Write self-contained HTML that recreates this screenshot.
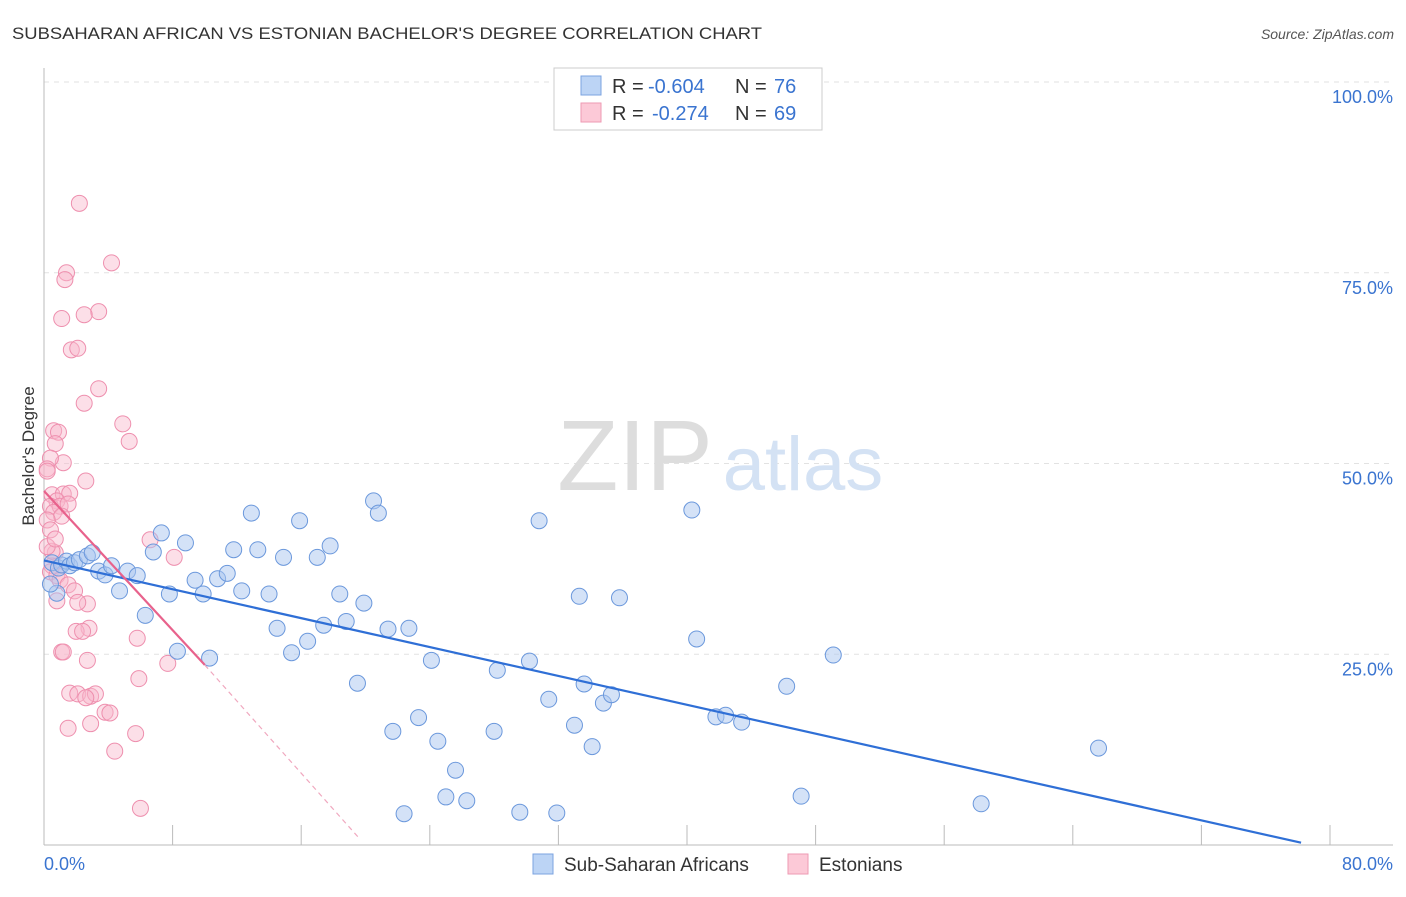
<!DOCTYPE html>
<html><head><meta charset="utf-8"><style>
body{margin:0;background:#fff;font-family:"Liberation Sans",sans-serif;}
svg text{font-family:"Liberation Sans",sans-serif;}
</style></head><body>
<svg width="1406" height="892" xmlns="http://www.w3.org/2000/svg" id="chart">
<text x="12" y="39" font-size="17" fill="#333" textLength="750" lengthAdjust="spacingAndGlyphs">SUBSAHARAN AFRICAN VS ESTONIAN BACHELOR'S DEGREE CORRELATION CHART</text>
<text x="1394" y="39" font-size="14" fill="#555" font-style="italic" text-anchor="end">Source: ZipAtlas.com</text>
<g id="grid"></g>
<g><text x="635" y="490" font-size="100" fill="#ddd" font-family="Liberation Serif,serif" text-anchor="middle">ZIP</text><text x="803" y="490" font-size="76" fill="#d4e2f4" text-anchor="middle">atlas</text></g>
<line x1="44" y1="68" x2="44" y2="845" stroke="#bbb"/>
<line x1="44" y1="845" x2="1393" y2="845" stroke="#bbb"/>
<g id="xticks"></g>
<text x="44" y="870" font-size="18" fill="#3a74d0">0.0%</text>
<text x="1393" y="870" font-size="18" fill="#3a74d0" text-anchor="end">80.0%</text>
<text x="34" y="456" font-size="17" fill="#333" text-anchor="middle" transform="rotate(-90 34 456)">Bachelor's Degree</text>
<g id="pts"></g>
<g id="lines"></g>
<g>
<rect x="554" y="68" width="268" height="62" fill="#fff" stroke="#ccc"/>
<rect x="581" y="76" width="20" height="19" fill="#bcd4f5" stroke="#7ba3e0"/>
<text x="612" y="93" font-size="20" fill="#333">R = <tspan x="648" fill="#3a74d0">-0.604</tspan><tspan x="735">N = </tspan><tspan x="774" fill="#3a74d0">76</tspan></text>
<rect x="581" y="103" width="20" height="19" fill="#fcc9d7" stroke="#ee9ab3"/>
<text x="612" y="120" font-size="20" fill="#333">R = <tspan x="652" fill="#3a74d0">-0.274</tspan><tspan x="735">N = </tspan><tspan x="774" fill="#3a74d0">69</tspan></text>
</g>
<g>
<rect x="533" y="854" width="20" height="20" fill="#bcd4f5" stroke="#7ba3e0"/>
<text x="564" y="871" font-size="19" fill="#333">Sub-Saharan Africans</text>
<rect x="788" y="854" width="20" height="20" fill="#fcc9d7" stroke="#ee9ab3"/>
<text x="819" y="871" font-size="19" fill="#333">Estonians</text>
</g>
</svg>
<script>
const yTicks=[25,50,75,100];
const yTickLabels=["25.0%","50.0%","75.0%","100.0%"];
const xTickVals=[0,8,16,24,32,40,48,56,64,72,80];
const blueX=[0.5,0.9,1.1,1.4,1.6,1.9,2.2,2.7,3.0,3.4,3.8,4.2,4.7,5.2,5.8,6.3,6.8,7.3,7.8,8.3,8.8,9.4,9.9,10.3,10.8,11.4,11.8,12.3,12.9,13.3,14.0,14.5,14.9,15.4,15.9,16.4,17.0,17.4,17.8,18.4,18.8,19.5,19.9,20.5,20.8,21.4,21.7,22.4,22.7,23.3,24.1,24.5,25.6,25.0,26.3,28.0,28.2,29.6,30.2,30.8,31.4,31.9,33.0,33.3,33.6,34.1,34.8,35.3,35.8,40.3,40.6,41.8,42.4,43.4,46.2,47.1,49.1,58.3,65.6,0.8,0.4];
const blueY=[37.0,36.3,36.7,37.2,36.6,37.0,37.4,37.9,38.3,35.9,35.4,36.6,33.3,35.9,35.3,30.1,38.4,40.9,32.9,25.4,39.6,34.7,32.9,24.5,34.9,35.6,38.7,33.3,43.5,38.7,32.9,28.4,37.7,25.2,42.5,26.7,37.7,28.8,39.2,32.9,29.3,21.2,31.7,45.1,43.5,28.3,14.9,4.1,28.4,16.7,24.2,13.6,9.8,6.3,5.8,14.9,22.9,4.3,24.1,42.5,19.1,4.2,15.7,32.6,21.1,12.9,18.6,19.7,32.4,43.9,27.0,16.8,17.0,16.1,20.8,6.4,24.9,5.4,12.7,33.0,34.2];
const pinkX=[2.2,4.2,1.4,1.3,3.4,2.5,1.1,1.7,2.1,3.4,2.5,4.9,5.3,0.6,0.9,0.7,1.2,0.4,0.2,2.6,0.5,1.2,1.6,0.8,0.4,1.0,1.5,0.6,1.1,0.2,0.4,0.7,0.5,0.4,0.8,1.0,1.5,1.9,0.8,2.7,2.1,6.6,8.1,2.8,2.0,2.4,5.8,1.1,2.7,1.2,7.7,5.9,1.6,2.1,2.9,3.2,2.6,3.8,4.1,2.9,1.5,5.7,4.4,6.0,0.5,0.2,0.2,0.7];
const pinkY=[84.1,76.3,75.0,74.1,69.9,69.5,69.0,64.9,65.1,59.8,57.9,55.2,52.9,54.3,54.1,52.6,50.1,50.7,49.3,47.7,45.9,46.0,46.1,45.1,44.4,44.4,44.7,43.6,43.1,42.6,41.3,38.3,36.6,35.8,35.3,34.7,34.1,33.3,32.0,31.6,31.8,40.0,37.7,28.4,28.0,28.0,27.1,25.3,24.2,25.3,23.8,21.8,19.9,19.8,19.5,19.8,19.3,17.4,17.3,15.9,15.3,14.6,12.3,4.8,38.5,39.1,49.0,40.1];
const blueTrend=[0,37.3,78.2,0.3];
const pinkTrend=[0,46.4,10.0,23.6];
const pinkDash=[10.0,23.6,19.6,0.9];
const X=v=>44+v/80*1286, Y=v=>845-v/100*763;
const NS="http://www.w3.org/2000/svg";
const mk=(t,a,p)=>{const e=document.createElementNS(NS,t);for(const k in a)e.setAttribute(k,a[k]);p.appendChild(e);return e;};
const grid=document.getElementById('grid');
yTicks.forEach((v,i)=>{
 const l=mk('line',{x1:44,x2:1393,y1:Y(v),y2:Y(v),stroke:'#e2e2e2','stroke-dasharray':'5,5'},grid);
 
 
 const t=mk('text',{x:1393,y:Y(v)+21,'font-size':18,fill:'#3a74d0','text-anchor':'end'},grid);
 t.textContent=yTickLabels[i];
 
 
});
const xt=document.getElementById('xticks');
xTickVals.forEach(v=>{
 const l=mk('line',{x1:X(v),x2:X(v),y1:825,y2:845,stroke:'#bbb'},xt);
 
 
});
const pts=document.getElementById('pts');
pinkX.forEach((x,i)=>{
 const c=mk('circle',{cx:X(x),cy:Y(pinkY[i]),r:8,fill:'#f9b8cb','fill-opacity':0.45,stroke:'#ee8fae','stroke-width':1},pts);
 
 
});
blueX.forEach((x,i)=>{
 const c=mk('circle',{cx:X(x),cy:Y(blueY[i]),r:8,fill:'#a9c6f0','fill-opacity':0.5,stroke:'#6b98dc','stroke-width':1},pts);
 
 
});
const lg=document.getElementById('lines');
let a=mk('line',{x1:X(blueTrend[0]),y1:Y(blueTrend[1]),x2:X(blueTrend[2]),y2:Y(blueTrend[3]),stroke:'#2f6fd6','stroke-width':2.2},lg);


a=mk('line',{x1:X(pinkTrend[0]),y1:Y(pinkTrend[1]),x2:X(pinkTrend[2]),y2:Y(pinkTrend[3]),stroke:'#e8628c','stroke-width':2.2},lg);


a=mk('line',{x1:X(pinkDash[0]),y1:Y(pinkDash[1]),x2:X(pinkDash[2]),y2:Y(pinkDash[3]),stroke:'#f0a8bf','stroke-width':1.2,'stroke-dasharray':'5,4'},lg);


</script>
</body></html>
